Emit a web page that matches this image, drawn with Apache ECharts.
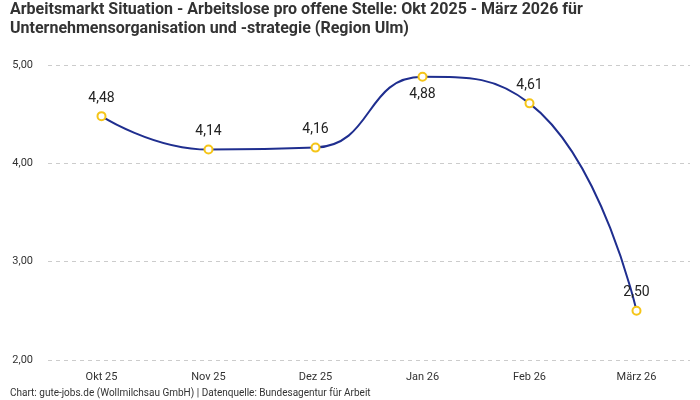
<!DOCTYPE html>
<html>
<head>
<meta charset="utf-8">
<script src="https://cdn.jsdelivr.net/npm/echarts@6/dist/echarts.min.js"></script>
<style>
  html, body { margin: 0; padding: 0; background: #fff; }
  #chart { width: 700px; height: 400px; }
</style>
</head>
<body>
<div id="chart"></div>
<script>
// Monate und Werte (Arbeitslose pro offene Stelle)
const months = ['Okt 25', 'Nov 25', 'Dez 25', 'Jan 26', 'Feb 26', 'März 26'];
const values = [4.48, 4.14, 4.16, 4.88, 4.61, 2.50];
// Label unter dem Punkt statt darüber
const labelBelow = [false, false, false, true, false, false];

const fmt = v => v.toFixed(2).replace('.', ',');

var chart = echarts.init(document.getElementById('chart'));
var option = {
    animation: false,
    textStyle: { fontFamily: 'Roboto' },
    title: {
        text: 'Arbeitsmarkt Situation - Arbeitslose pro offene Stelle: Okt 2025 - März 2026 für\nUnternehmensorganisation und -strategie (Region Ulm)',
        left: 10,
        top: 0,
        padding: 0,
        textStyle: {
            fontSize: 16,
            fontWeight: 'bold',
            color: '#333',
            lineHeight: 19,
            fontFamily: 'Roboto'
        }
    },
    grid: {
        left: 48,
        right: 10,
        top: 65,
        bottom: 40
    },
    xAxis: {
        type: 'category',
        data: months,
        boundaryGap: true,
        axisLine: { show: false },
        axisTick: { show: false },
        axisLabel: { color: '#333', fontSize: 11, margin: 12 }
    },
    yAxis: {
        type: 'value',
        min: 2,
        max: 5,
        interval: 1,
        axisLabel: {
            color: '#333',
            fontSize: 11,
            formatter: v => fmt(v),
            margin: 15
        },
        splitLine: { lineStyle: { type: [4, 4], color: '#ccc' } }
    },
    series: [{
        type: 'line',
        smooth: 0.5,
        data: values.map((v, i) => ({
            value: v,
            label: { position: labelBelow[i] ? 'bottom' : 'top' }
        })),
        symbol: 'circle',
        symbolSize: 8,
        itemStyle: { color: '#fff', borderColor: '#f5c518', borderWidth: 2 },
        lineStyle: { color: '#1f2e8f', width: 2 },
        label: {
            show: true,
            formatter: p => fmt(p.value),
            fontSize: 14,
            color: '#222',
            distance: 6
        }
    }],
    graphic: [{
        type: 'text',
        left: 10,
        top: 388,
        style: {
            text: 'Chart: gute-jobs.de (Wollmilchsau GmbH) | Datenquelle: Bundesagentur für Arbeit',
            fontSize: 10,
            fill: '#333',
            fontFamily: 'Roboto'
        }
    }]
};
chart.setOption(option);
</script>
</body>
</html>
